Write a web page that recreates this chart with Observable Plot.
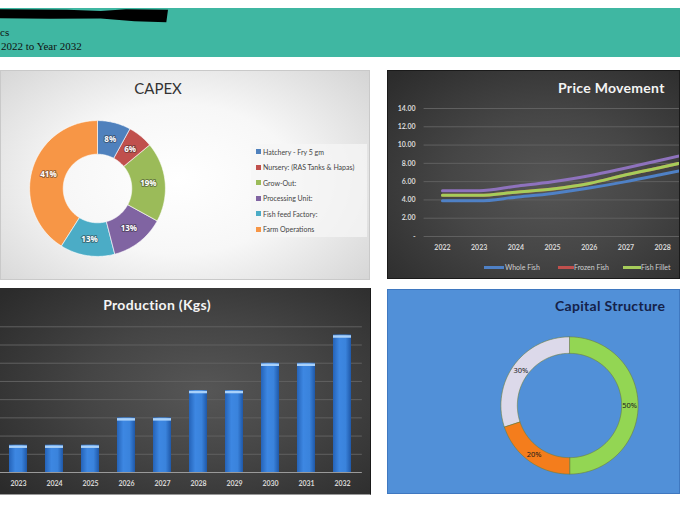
<!DOCTYPE html>
<html><head><meta charset="utf-8">
<script src="https://cdn.jsdelivr.net/npm/d3@7"></script>
<script src="https://cdn.jsdelivr.net/npm/@observablehq/plot@0.6"></script>
<style>
html,body{margin:0;padding:0;background:#fff;}
#root{position:relative;width:680px;height:510px;overflow:hidden;font-family:Lato,"Open Sans",sans-serif;}
.panel{position:absolute;overflow:hidden;box-sizing:border-box;}
.abs{position:absolute;white-space:nowrap;}
svg{display:block;max-width:none !important;}
</style></head><body><div id="root"></div>
<script>
// ---------- DATA ----------
const headerLines = ["cs", "2022 to Year 2032"];

const capexTitle = "CAPEX";
const capexCategories = ["Hatchery - Fry 5 gm", "Nursery: (RAS Tanks & Hapas)", "Grow-Out:", "Processing Unit:", "Fish feed Factory:", "Farm Operations"];
const capexShares = [8, 6, 19, 13, 13, 41];
const capexColors = ["#4f81bd", "#c0504d", "#9bbb59", "#8064a2", "#4bacc6", "#f79646"];

const priceTitle = "Price Movement";
const priceYears = [2022, 2023, 2024, 2025, 2026, 2027, 2028, 2029];
const priceTickYears = [2022, 2023, 2024, 2025, 2026, 2027, 2028];
const priceSeries = ["Whole Fish", "Frozen Fish", "Fish Fillet"];
const priceColors = ["#4f81c6", "#c0504d", "#a6cc5a"];
const wholeFish = [3.9, 3.9, 4.3, 4.7, 5.3, 6.0, 6.8, 7.6];
const frozenFish = [4.5, 4.5, 4.85, 5.2, 5.8, 6.75, 7.6, 8.5];
const fishFillet = [4.5, 4.5, 4.85, 5.2, 5.8, 6.75, 7.6, 8.5];
const upperSeries = [5.0, 5.0, 5.5, 6.0, 6.65, 7.5, 8.4, 9.3];
const upperColor = "#8e72bd";
const priceTicks = [0, 2, 4, 6, 8, 10, 12, 14];

const productionTitle = "Production (Kgs)";
const productionYears = ["2023", "2024", "2025", "2026", "2027", "2028", "2029", "2030", "2031", "2032"];
const productionKgs = [15000, 15000, 15000, 30000, 30000, 45000, 45000, 60000, 60000, 75500];
const productionTicks = [0, 10000, 20000, 30000, 40000, 50000, 60000, 70000, 80000];

const capitalTitle = "Capital Structure";
const capitalShares = [50, 20, 30];
const capitalColors = ["#93d653", "#f47d1c", "#dcd9ea"];

// ---------- HELPERS ----------
const root = document.getElementById("root");
function el(tag, style, parent, text) {
  const e = document.createElement(tag);
  Object.assign(e.style, style);
  if (text != null) e.textContent = text;
  (parent || root).appendChild(e);
  return e;
}
function place(p, left, top) {
  Object.assign(p.style, {position: "absolute", left: left + "px", top: top + "px", maxWidth: "none"});
}
function ring(values, rOuter, rInner, rLabel) {
  const arcs = d3.pie().sort(null).value(d => d)(values);
  const rows = [], labels = [];
  arcs.forEach((a, i) => {
    const n = Math.max(4, Math.ceil((a.endAngle - a.startAngle) / 0.02));
    for (let k = 0; k <= n; k++) {
      const t = a.startAngle + (a.endAngle - a.startAngle) * k / n;
      rows.push({key: i, x: rOuter * Math.sin(t), y: rOuter * Math.cos(t)});
    }
    for (let k = n; k >= 0; k--) {
      const t = a.startAngle + (a.endAngle - a.startAngle) * k / n;
      rows.push({key: i, x: rInner * Math.sin(t), y: rInner * Math.cos(t)});
    }
    const m = (a.startAngle + a.endAngle) / 2;
    labels.push({key: i, x: rLabel * Math.sin(m), y: rLabel * Math.cos(m), text: values[i] + "%"});
  });
  return {rows, labels};
}

// ---------- HEADER ----------
el("div", {position: "absolute", left: "0px", top: "8px", width: "680px", height: "49px", background: "#3fb7a2"});
el("div", {position: "absolute", left: "0px", top: "8px", width: "168px", height: "15px", background: "#000",
  clipPath: "polygon(0 8%, 40% 12%, 60% 20%, 75% 8%, 100% 12%, 99% 95%, 80% 88%, 60% 70%, 30% 72%, 0 68%)"});
el("div", {position: "absolute", left: "0px", top: "26px", font: "11px 'Liberation Serif', serif", color: "#111"}, root, headerLines[0]);
el("div", {position: "absolute", left: "1px", top: "40px", font: "11px 'Liberation Serif', serif", color: "#111"}, root, headerLines[1]);

// ---------- CAPEX PANEL ----------
const capex = el("div", {left: "0px", top: "70px", width: "370px", height: "210px",
  background: "radial-gradient(ellipse 70% 80% at 48% 52%, #ffffff 0%, #f7f7f7 45%, #d3d3d3 100%)",
  border: "1px solid #c9c9c9"});
capex.className = "panel";
el("div", {position: "absolute", left: "0", width: "314px", top: "8px", textAlign: "center", fontSize: "15px", color: "#333"}, capex, capexTitle);
el("div", {position: "absolute", left: "250px", top: "73px", width: "116px", height: "93px", background: "rgba(246,246,246,0.75)"}, capex);
capexCategories.forEach((c, i) => {
  const y = 80.5 + i * 15.5;
  el("div", {position: "absolute", left: "255px", top: (y - 2.5) + "px", width: "5px", height: "5px", background: capexColors[i]}, capex);
  el("div", {position: "absolute", left: "262px", top: (y - 5) + "px", fontSize: "7px", lineHeight: "10px", color: "#444", whiteSpace: "nowrap"}, capex, c);
});
{
  const {rows, labels} = ring(capexShares, 0.97, 0.49, 0.73);
  const p = Plot.plot({
    width: 140, height: 140, margin: 0,
    x: {domain: [-1, 1], axis: null}, y: {domain: [-1, 1], axis: null},
    color: {type: "ordinal", domain: d3.range(capexShares.length), range: capexColors},
    style: {background: "transparent", overflow: "visible"},
    marks: [
      Plot.line(rows, {x: "x", y: "y", z: "key", fill: "key", stroke: "white", strokeWidth: 0.6, curve: "linear-closed"}),
      Plot.text(labels, {x: "x", y: "y", text: "text", fill: "white", fontWeight: "bold", fontSize: 8,
        stroke: "rgba(40,40,40,0.45)", strokeWidth: 2})
    ]
  });
  place(p, 26, 47);
  capex.appendChild(p);
}

// ---------- PRICE MOVEMENT PANEL ----------
const price = el("div", {left: "387px", top: "70px", width: "293px", height: "209px",
  background: "radial-gradient(ellipse 75% 75% at 55% 55%, #555555 0%, #464646 45%, #2c2c2c 100%)",
  border: "1px solid #1a1a1a"});
price.className = "panel";
el("div", {position: "absolute", left: "170px", top: "8px", fontSize: "14px", fontWeight: "bold", color: "#f4f4f4", letterSpacing: "0.3px"}, price, priceTitle);
{
  const rows = [];
  const sets = [[wholeFish, "w"], [frozenFish, "f"], [fishFillet, "g"], [upperSeries, "u"]];
  sets.forEach(([vals, k]) => vals.forEach((v, i) => rows.push({k, year: priceYears[i], v})));
  const p = Plot.plot({
    width: 460, height: 209, marginLeft: 36.6, marginRight: 460 - 440.3, marginTop: 38, marginBottom: 43,
    x: {domain: [2021.5, 2032.5]},
    y: {domain: [0, 14]},
    color: {type: "ordinal", domain: ["w", "f", "g", "u"], range: [priceColors[0], priceColors[1], priceColors[2], upperColor]},
    style: {background: "transparent", overflow: "visible", fontFamily: "Lato, sans-serif"},
    marks: [
      Plot.gridY(priceTicks, {stroke: "#606060", strokeOpacity: 1}),
      Plot.axisY(priceTicks, {tickSize: 0, tickPadding: 8.5, fontSize: 7, fontWeight: "bold", color: "#d8d8d8",
        tickFormat: d => d === 0 ? "-" : d.toFixed(2), label: null}),
      Plot.axisX(priceTickYears, {tickSize: 0, tickPadding: 8.5, fontSize: 7, fontWeight: "bold", color: "#d8d8d8",
        tickFormat: d => String(d), label: null}),
      Plot.line(rows, {x: "year", y: "v", z: "k", stroke: "k", strokeWidth: 3, curve: "monotone-x"})
    ]
  });
  place(p, -1, -1);
  price.appendChild(p);
}
{
  const sw = [[96, 20, 117], [170, 16, 186], [235, 18, 253]];
  priceSeries.forEach((s, i) => {
    const [x, w, tx] = sw[i];
    el("div", {position: "absolute", left: x + "px", top: "194.5px", width: w + "px", height: "3px", background: priceColors[i]}, price);
    el("div", {position: "absolute", left: tx + "px", top: "191px", fontSize: "7px", lineHeight: "10px", color: "#d0d0d0", whiteSpace: "nowrap"}, price, s);
  });
}

// ---------- PRODUCTION PANEL ----------
const prod = el("div", {left: "0px", top: "288px", width: "371px", height: "207px",
  background: "radial-gradient(ellipse 70% 75% at 55% 50%, #565656 0%, #454545 45%, #2b2b2b 100%)",
  borderRight: "1px solid #1a1a1a", borderBottom: "1px solid #999"});
prod.className = "panel";
el("div", {position: "absolute", left: "0", width: "314px", top: "8px", textAlign: "center", fontSize: "14px", fontWeight: "bold", color: "#f4f4f4", letterSpacing: "0.3px"}, prod, productionTitle);
{
  const data = productionYears.map((y, i) => ({year: y, kg: productionKgs[i]}));
  const p = Plot.plot({
    width: 391, height: 207, marginLeft: 18.85, marginRight: 9.15, marginTop: 38.3, marginBottom: 23,
    x: {type: "band", domain: productionYears, paddingInner: 0.5, paddingOuter: 0.25},
    y: {domain: [0, 80000]},
    style: {background: "transparent", overflow: "visible", fontFamily: "Lato, sans-serif"},
    marks: [
      Plot.gridY(productionTicks.slice(1), {stroke: "#606060", strokeOpacity: 1}),
      Plot.barY(data, {x: "year", y: "kg", fill: "url(#barGrad)"}),
      Plot.tickY(data, {x: "year", y: "kg", stroke: "#a9d1fa", strokeWidth: 2.5, dy: 1.5}),
      Plot.ruleY([0], {stroke: "#9a9a9a"}),
      Plot.axisX({tickSize: 0, tickPadding: 8.5, fontSize: 7, fontWeight: "bold", color: "#d8d8d8", label: null}),
      Plot.axisY({ticks: [], label: null})
    ]
  });
  const svg = p.tagName.toLowerCase() === "svg" ? p : p.querySelector("svg");
  const defs = document.createElementNS("http://www.w3.org/2000/svg", "defs");
  defs.innerHTML = '<linearGradient id="barGrad" x1="0" x2="1" y1="0" y2="0">' +
    '<stop offset="0" stop-color="#2563b8"/><stop offset="0.35" stop-color="#3d87e2"/>' +
    '<stop offset="0.7" stop-color="#3a83dc"/><stop offset="1" stop-color="#1f58a8"/></linearGradient>';
  svg.insertBefore(defs, svg.firstChild);
  place(p, -20, 0);
  prod.appendChild(p);
}

// ---------- CAPITAL STRUCTURE PANEL ----------
const cap = el("div", {left: "387px", top: "289px", width: "293px", height: "205px",
  background: "#5190d8", border: "1px solid #3f78c0"});
cap.className = "panel";
el("div", {position: "absolute", left: "167px", top: "7px", fontSize: "14px", fontWeight: "bold", color: "#15224a", letterSpacing: "0.3px"}, cap, capitalTitle);
{
  const {rows, labels} = ring(capitalShares, 0.98, 0.745, 0.86);
  const p = Plot.plot({
    width: 140, height: 140, margin: 0,
    x: {domain: [-1, 1], axis: null}, y: {domain: [-1, 1], axis: null},
    color: {type: "ordinal", domain: d3.range(capitalShares.length), range: capitalColors},
    style: {background: "transparent", overflow: "visible"},
    marks: [
      Plot.line(rows, {x: "x", y: "y", z: "key", fill: "key", stroke: "#6d7d3a", strokeWidth: 0.6, curve: "linear-closed"}),
      Plot.text(labels, {x: "x", y: "y", text: "text", fill: "#1a1a1a", fontSize: 7.5})
    ]
  });
  place(p, 111.3, 44.7);
  cap.appendChild(p);
}
</script></body></html>
